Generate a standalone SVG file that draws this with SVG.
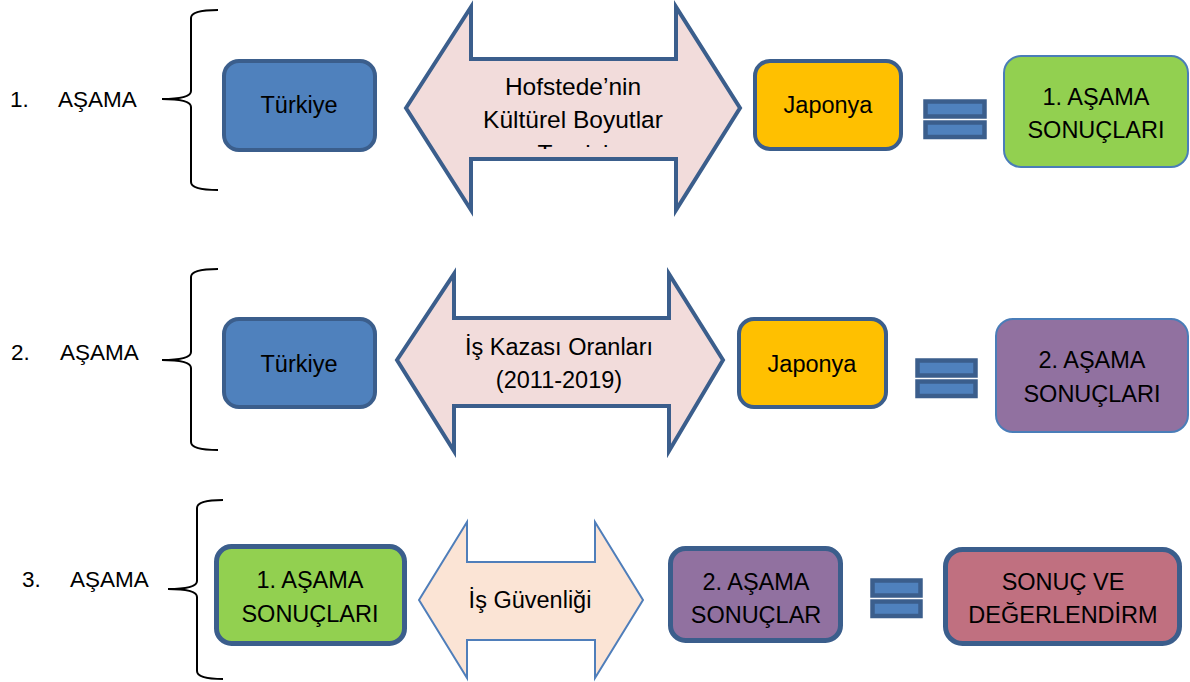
<svg xmlns="http://www.w3.org/2000/svg" width="1190" height="682" viewBox="0 0 1190 682">
<defs>
<style>
text{font-family:"Liberation Sans",Arial,sans-serif;fill:#000;}
.lbl{font-size:22.5px;}
.t{font-size:23.5px;text-anchor:middle;}
.t1{font-size:24.5px;}
.brace{fill:none;stroke:#000;stroke-width:2;}
.blue{fill:#4F81BD;stroke:#3B5E8C;stroke-width:4;}
.yel{fill:#FFC000;stroke:#3B5E8C;stroke-width:4;}
.grn{fill:#92D050;}
.pur{fill:#9171A0;}
.red{fill:#C07080;}
.thin{stroke:#4A7DB8;stroke-width:2;}
.thick{stroke:#3B5E8C;stroke-width:5;}
.arr{fill:#F2DCDB;stroke:#3B5E8C;stroke-width:4;stroke-linejoin:miter;}
.arr3{fill:#FBE4D5;stroke:#4F7EBA;stroke-width:2;}
.eq{fill:#4F81BD;stroke:#3B5E8C;stroke-width:4.5;}
</style>
<clipPath id="clip1"><rect x="470" y="57" width="210" height="92"/></clipPath>
</defs>

<g id="labels">
<text class="lbl" x="10" y="107">1.</text><text class="lbl" x="58" y="107">AŞAMA</text>
<text class="lbl" x="11" y="360">2.</text><text class="lbl" x="60" y="360">AŞAMA</text>
<text class="lbl" x="22" y="587">3.</text><text class="lbl" x="70" y="587">AŞAMA</text>
</g>

<g id="braces">
<path class="brace" d="M218,10 Q191,10 191,18 L191,91 Q191,99 162,99 Q191,99 191,107 L191,182 Q191,190 218,190"/>
<path class="brace" d="M218,269 Q191,269 191,277 L191,352 Q191,360 162,360 Q191,360 191,368 L191,442 Q191,450 218,450"/>
<path class="brace" d="M223,500 Q197,500 197,508 L197,581 Q197,589 168,589 Q197,589 197,597 L197,671 Q197,679 223,679"/>
</g>

<g id="row1">
<g id="turkiye1"><rect class="blue" x="224" y="61" width="151" height="89" rx="15"/><text class="t" x="299" y="113">Türkiye</text></g>
<g id="arrow1"><path class="arr" d="M406,108 L471,7 L471,59 L676,59 L676,7 L740,108 L676,210 L676,159 L471,159 L471,210 Z"/>
<g clip-path="url(#clip1)"><text class="t t1" x="573" y="95">Hofstede’nin</text><text class="t t1" x="573" y="128">Kültürel Boyutlar</text><text class="t t1" x="573" y="162">Teorisi</text></g></g>
<g id="japonya1"><rect class="yel" x="755" y="61" width="146" height="88" rx="15"/><text class="t" x="828" y="113">Japonya</text></g>
<g id="eq1"><rect class="eq" x="925.5" y="101.5" width="59" height="15"/><rect class="eq" x="925.5" y="122.5" width="59" height="14.5"/></g>
<g id="sonuc1"><rect class="grn thin" x="1004" y="56" width="184" height="111" rx="17"/><text class="t" x="1096" y="105">1. AŞAMA</text><text class="t" x="1096" y="138">SONUÇLARI</text></g>
</g>

<g id="row2">
<g id="turkiye2"><rect class="blue" x="224" y="319" width="151" height="88" rx="15"/><text class="t" x="299" y="372">Türkiye</text></g>
<g id="arrow2"><path class="arr" d="M397,360 L454,274 L454,318 L669,318 L669,274 L723,360 L669,451 L669,406 L454,406 L454,451 Z"/>
<text class="t" x="559" y="355">İş Kazası Oranları</text><text class="t" x="559" y="388">(2011-2019)</text></g>
<g id="japonya2"><rect class="yel" x="739" y="319" width="147" height="88" rx="15"/><text class="t" x="812" y="372">Japonya</text></g>
<g id="eq2"><rect class="eq" x="917.5" y="360.5" width="58" height="15"/><rect class="eq" x="917.5" y="381.5" width="58" height="14.5"/></g>
<g id="sonuc2"><rect class="pur thin" x="996" y="319" width="192" height="113" rx="17"/><text class="t" x="1092" y="368">2. AŞAMA</text><text class="t" x="1092" y="402">SONUÇLARI</text></g>
</g>

<g id="row3">
<g id="sonuc1b"><rect class="grn thick" x="216.5" y="546.5" width="188" height="97" rx="15"/><text class="t" x="310" y="588">1. AŞAMA</text><text class="t" x="310" y="622">SONUÇLARI</text></g>
<g id="arrow3"><path class="arr3" d="M419,600 L467,522 L467,562 L595,562 L595,522 L643,600 L595,678 L595,640 L467,640 L467,678 Z"/>
<text class="t" x="530" y="608">İş Güvenliği</text></g>
<g id="sonuc2b"><rect class="pur thick" x="670.5" y="548.5" width="170" height="92" rx="15"/><text class="t" x="756" y="590">2. AŞAMA</text><text class="t" x="756" y="623">SONUÇLAR</text></g>
<g id="eq3"><rect class="eq" x="872.5" y="580.5" width="48" height="15"/><rect class="eq" x="872.5" y="601.5" width="48" height="14.5"/></g>
<g id="sonuc3"><rect class="red thick" x="945.5" y="549.5" width="234" height="94" rx="17"/><text class="t" x="1063" y="590">SONUÇ VE</text><text class="t" x="1063" y="623">DEĞERLENDİRM</text></g>
</g>
</svg>
